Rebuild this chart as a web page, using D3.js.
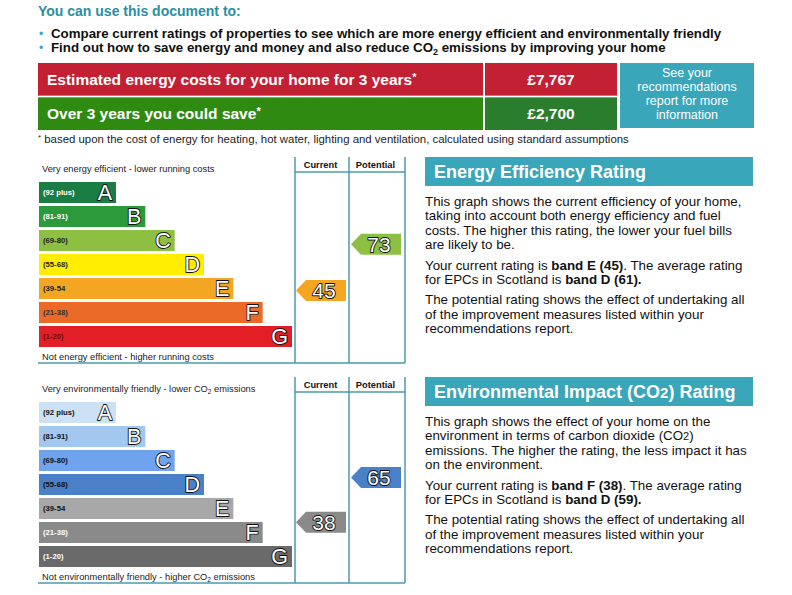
<!DOCTYPE html>
<html>
<head>
<meta charset="utf-8">
<script src="https://cdn.jsdelivr.net/npm/d3@7"></script>
<style>
  body { margin: 0; background: #fff; }
  svg { display: block; font-family: "Liberation Sans", Arial, sans-serif; }
</style>
</head>
<body>
<div id="epc"></div>
<script>
const bands = ["A", "B", "C", "D", "E", "F", "G"];
const bandRanges = ["(92 plus)", "(81-91)", "(69-80)", "(55-68)", "(39-54", "(21-38)", "(1-20)"];
const bandMins = [92, 81, 69, 55, 39, 21, 1];
const columns = ["Current", "Potential"];
const energyRatings = [45, 73];
const envRatings = [38, 65];
const energyColours = ["#1a7d43", "#2a9a3a", "#8dbf42", "#ffee00", "#f4a623", "#eb6a27", "#e21e26"];
const energyRangeText = ["#fff", "#fff", "#222", "#222", "#222", "#333", "#6b1010"];
const envColours = ["#cde1f4", "#a3c8ef", "#6fa3ee", "#4a80c8", "#a8a8a8", "#8a8a8a", "#6a6a6a"];
const envRangeText = ["#111", "#111", "#111", "#111", "#111", "#fff", "#fff"];
const costLabels = ["Estimated energy costs for your home for 3 years*", "Over 3 years you could save*"];
const costValues = ["£7,767", "£2,700"];
const bullets = [
  "Compare current ratings of properties to see which are more energy efficient and environmentally friendly",
  "Find out how to save energy and money and also reduce CO|2| emissions by improving your home"
];

const W = 792, H = 595;
const teal = "#3aa6b9", frame = "#4a9aab";

const svg = d3.select("#epc").append("svg")
    .attr("width", W)
    .attr("height", H);

// ---- header ----
svg.append("text").attr("x", 38).attr("y", 16)
  .text("You can use this document to:")
  .style("font-size", "14px").style("font-weight", "bold").style("fill", "#2a8fa0");

bullets.forEach(function(b, i) {
  const y = 38 + i * 14;
  svg.append("text").attr("x", 39).attr("y", y).text("•")
    .style("font-size", "12px").style("fill", teal);
  const t = svg.append("text").attr("x", 51).attr("y", y)
    .style("font-size", "13.3px").style("font-weight", "bold").style("fill", "#111");
  // parts between | are subscripts
  b.split("|").forEach(function(part, j) {
    if (j % 2 == 1) t.append("tspan").text(part).attr("dy", 3).style("font-size", "9px");
    else t.append("tspan").text(part).attr("dy", j == 0 ? 0 : -3);
  });
});

// ---- cost boxes ----
const costRow = d3.scaleBand().domain(d3.range(costLabels.length)).range([63, 130]).paddingInner(0.05);
const labelFill = ["#c32033", "#2f8a12"];
const valueFill = ["#c32033", "#2b7d2e"];
costLabels.forEach(function(lab, i) {
  const y0 = costRow(i), h = costRow.bandwidth();
  svg.append("rect").attr("x", 38).attr("y", y0).attr("width", 445).attr("height", h).style("fill", labelFill[i]);
  svg.append("rect").attr("x", 485).attr("y", y0).attr("width", 132).attr("height", h).style("fill", valueFill[i]);
  svg.append("text").attr("x", 47).attr("y", y0 + h / 2 + 5.5).text(lab.replace("*", ""))
    .style("font-size", "15.5px").style("font-weight", "bold").style("fill", "#fff")
    .append("tspan").text("*").attr("dy", -4).style("font-size", "11px");
  svg.append("text").attr("x", 551).attr("y", y0 + h / 2 + 5.5).text(costValues[i])
    .attr("text-anchor", "middle")
    .style("font-size", "15.5px").style("font-weight", "bold").style("fill", "#fff");
});
svg.append("rect").attr("x", 620).attr("y", 63).attr("width", 134).attr("height", 65).style("fill", teal);
["See your", "recommendations", "report for more", "information"].forEach(function(s, i) {
  svg.append("text").attr("x", 687).attr("y", 76.5 + i * 14).text(s).attr("text-anchor", "middle")
    .style("font-size", "12.5px").style("fill", "#fff");
});
const foot = svg.append("text").attr("x", 38).attr("y", 143).style("font-size", "11.4px").style("fill", "#222");
foot.append("tspan").text("*").attr("dy", -3).style("font-size", "8px");
foot.append("tspan").text(" based upon the cost of energy for heating, hot water, lighting and ventilation, calculated using standard assumptions").attr("dy", 3);

// ---- rating chart ----
function bandOf(v) {
  return bandMins.findIndex(m => v >= m);
}

// white letters with a dark outline drawn outside the glyph
function outlined(sel, size) {
  sel.style("font-size", size + "px").style("fill", "#fff")
    .style("stroke", "#111").style("stroke-width", 1.8)
    .style("paint-order", "stroke").style("stroke-linejoin", "round");
}

function drawChart(top, colours, rangeText, ratings, topText, bottomText) {
  const g = svg.append("g").attr("transform", `translate(0,${top})`);

  const y = d3.scaleBand().domain(bands).range([25, 190]).paddingInner(0.125).paddingOuter(0);
  const len = d3.scaleLinear().domain([0, bands.length - 1]).range([77, 253]);
  const ry = d3.scaleLinear().domain([1, 100]).range([206.5, 42.5]);
  const colX = { Current: [296, 346], Potential: [351, 401] };

  // frame
  const lines = [[295, 0, 295, 206], [349, 0, 349, 206], [405, 0, 405, 206], [295, 15, 405, 15], [38, 206, 405, 206]];
  g.selectAll("line").data(lines).join("line")
    .attr("x1", d => d[0]).attr("y1", d => d[1]).attr("x2", d => d[2]).attr("y2", d => d[3])
    .style("stroke", frame).style("stroke-width", 1.5);

  g.selectAll(".colhead").data(columns).join("text")
    .attr("x", d => (colX[d][0] + colX[d][1]) / 2 - 0.5).attr("y", 10.5)
    .attr("text-anchor", "middle").text(d => d)
    .style("font-size", "9.3px").style("font-weight", "bold").style("fill", "#111");

  topText(g.append("text").attr("x", 42).attr("y", 15).style("font-size", "9.3px").style("fill", "#222"));
  bottomText(g.append("text").attr("x", 42).attr("y", 203).style("font-size", "9.3px").style("fill", "#222"));

  const rows = g.selectAll(".band").data(bands).join("g").attr("class", "band");
  rows.append("rect")
    .attr("x", 39).attr("y", d => y(d))
    .attr("width", (d, i) => len(i)).attr("height", y.bandwidth())
    .style("fill", (d, i) => colours[i]);
  rows.append("text")
    .attr("x", 43).attr("y", d => y(d) + y.bandwidth() / 2 + 2.7)
    .text((d, i) => bandRanges[i])
    .style("font-size", "7.7px").style("font-weight", "bold").style("fill", (d, i) => rangeText[i]);
  rows.append("text")
    .attr("x", (d, i) => 39 + len(i) - 4).attr("y", d => y(d) + y.bandwidth() / 2 + 7.5)
    .attr("text-anchor", "end").text(d => d)
    .call(outlined, 21.5);

  // rating arrows
  const h = y.bandwidth();
  const arrows = g.selectAll(".arrow").data(columns).join("g").attr("class", "arrow");
  arrows.append("path")
    .attr("d", function(c, i) {
      const x0 = colX[c][0], x1 = colX[c][1], yc = ry(ratings[i]);
      return `M${x0},${yc}L${x0 + 10},${yc - h / 2}L${x1},${yc - h / 2}L${x1},${yc + h / 2}L${x0 + 10},${yc + h / 2}Z`;
    })
    .style("fill", (c, i) => colours[bandOf(ratings[i])]);
  arrows.append("text")
    .attr("x", c => (colX[c][0] + 10 + colX[c][1]) / 2 - 2)
    .attr("y", (c, i) => ry(ratings[i]) + 7.5)
    .attr("text-anchor", "middle").text((c, i) => ratings[i])
    .call(outlined, 21);
}

function co2Line(before, after) {
  return function(t) {
    t.append("tspan").text(before + "CO");
    t.append("tspan").text("2").attr("dy", 2).style("font-size", "6.5px");
    t.append("tspan").text(after).attr("dy", -2);
  };
}

drawChart(157, energyColours, energyRangeText, energyRatings,
  t => t.text("Very energy efficient - lower running costs"),
  t => t.text("Not energy efficient - higher running costs"));
drawChart(377, envColours, envRangeText, envRatings,
  co2Line("Very environmentally friendly - lower ", " emissions"),
  co2Line("Not environmentally friendly - higher ", " emissions"));

// ---- explanation panels ----
function panel(top, title, paras) {
  const g = svg.append("g").attr("transform", `translate(0,${top})`);
  g.append("rect").attr("x", 425).attr("y", 0).attr("width", 328).attr("height", 29).style("fill", teal);
  const tt = g.append("text").attr("x", 434).attr("y", 21)
    .style("font-size", "18px").style("font-weight", "bold").style("fill", "#fff");
  title.split("|").forEach(function(p, j) {
    tt.append("tspan").text(p).style("font-size", j % 2 ? "15px" : null);
  });
  let yy = 49;
  paras.forEach(function(lines) {
    lines.forEach(function(line) {
      const t = g.append("text").attr("x", 425).attr("y", yy).style("font-size", "13.35px").style("fill", "#111");
      // segments between * are bold, between | smaller
      line.split("*").forEach(function(seg, j) {
        seg.split("|").forEach(function(s, k) {
          t.append("tspan").text(s)
            .style("font-weight", j % 2 ? "bold" : null)
            .style("font-size", k % 2 ? "11px" : null);
        });
      });
      yy += 14.4;
    });
    yy += 6;
  });
}

panel(157, "Energy Efficiency Rating", [
  ["This graph shows the current efficiency of your home,",
   "taking into account both energy efficiency and fuel",
   "costs. The higher this rating, the lower your fuel bills",
   "are likely to be."],
  ["Your current rating is *band E (45)*. The average rating",
   "for EPCs in Scotland is *band D (61).*"],
  ["The potential rating shows the effect of undertaking all",
   "of the improvement measures listed within your",
   "recommendations report."]
]);
panel(377, "Environmental Impact (CO|2|) Rating", [
  ["This graph shows the effect of your home on the",
   "environment in terms of carbon dioxide (CO|2|)",
   "emissions. The higher the rating, the less impact it has",
   "on the environment."],
  ["Your current rating is *band F (38)*. The average rating",
   "for EPCs in Scotland is *band D (59).*"],
  ["The potential rating shows the effect of undertaking all",
   "of the improvement measures listed within your",
   "recommendations report."]
]);
</script>
</body>
</html>
